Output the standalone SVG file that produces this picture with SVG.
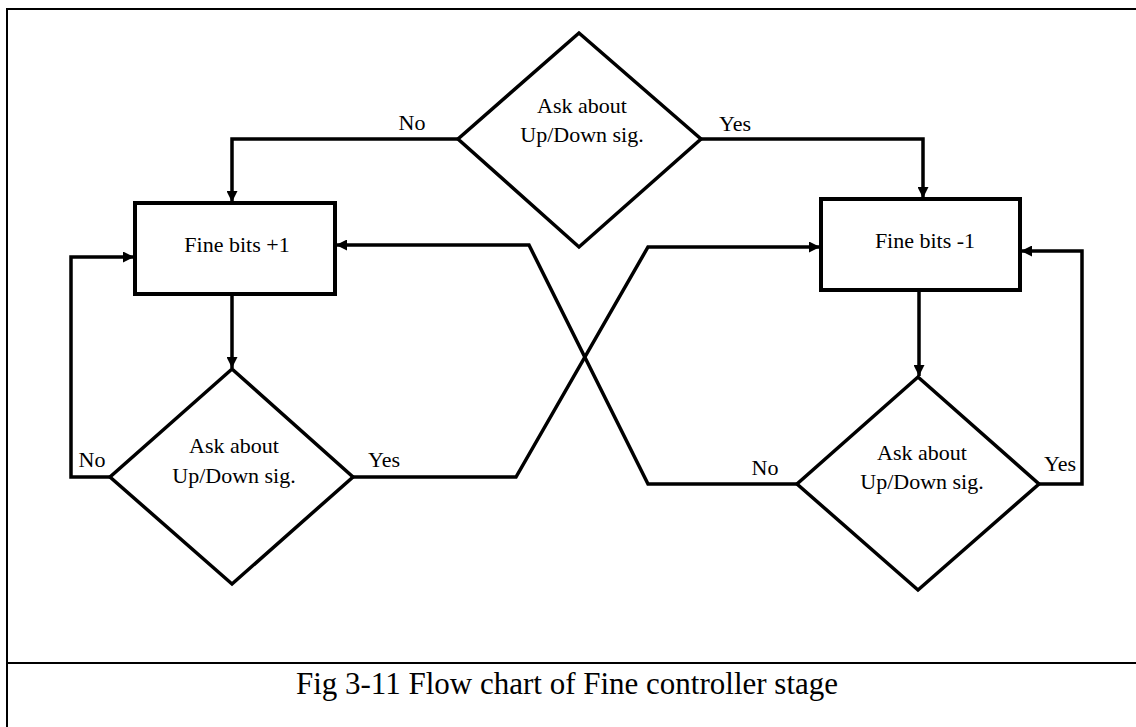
<svg xmlns="http://www.w3.org/2000/svg" width="1136" height="727" viewBox="0 0 1136 727">
<defs>
<style>
.shape{fill:#fff;stroke:#000;stroke-width:3.5}
.box{fill:#fff;stroke:#000;stroke-width:4}
.conn{fill:none;stroke:#000;stroke-width:3.5;stroke-linejoin:miter}
.t{font-family:"Liberation Serif","Times New Roman",serif;font-size:22px;fill:#000;text-anchor:middle}
.cap{font-family:"Liberation Serif","Times New Roman",serif;font-size:31px;fill:#000;text-anchor:middle}
.frame{fill:none;stroke:#000;stroke-width:2}
</style>
<marker id="ah" viewBox="0 0 10 10" refX="10" refY="5" markerWidth="11" markerHeight="11" markerUnits="userSpaceOnUse" orient="auto">
<path d="M0,0 L10,5 L0,10 z" fill="#000"/>
</marker>
</defs>
<rect width="1136" height="727" fill="#fff"/>
<g id="frame">
<path class="frame" d="M7,727 V9 H1136"/>
<path class="frame" d="M7,663 H1136"/>
</g>
<g id="connectors">
<path class="conn" d="M458,139 H232 V202" marker-end="url(#ah)"/>
<path class="conn" d="M701,139 H923 V198" marker-end="url(#ah)"/>
<path class="conn" d="M232,294 V368" marker-end="url(#ah)"/>
<path class="conn" d="M919,290 V376" marker-end="url(#ah)"/>
<path class="conn" d="M110,477 H71 V257 H134" marker-end="url(#ah)"/>
<path class="conn" d="M1039,484 H1082 V251 H1021" marker-end="url(#ah)"/>
<path class="conn" d="M353,477 H516 L648,247 H820" marker-end="url(#ah)"/>
<path class="conn" d="M797,484 H648 L529,245 H336" marker-end="url(#ah)"/>
</g>
<g id="labels">
<text class="t" x="412" y="130">No</text>
<text class="t" x="735" y="131">Yes</text>
<text class="t" x="92" y="467">No</text>
<text class="t" x="384" y="467">Yes</text>
<text class="t" x="765" y="475">No</text>
<text class="t" x="1060" y="471">Yes</text>
</g>
<g id="decision-top">
<polygon class="shape" points="579,33 701,139 579,247 458,139"/>
<text class="t" x="582" y="113">Ask about</text>
<text class="t" x="582" y="142">Up/Down sig.</text>
</g>
<g id="box-plus">
<rect class="box" x="135" y="203" width="200" height="91"/>
<text class="t" x="237" y="252">Fine bits +1</text>
</g>
<g id="box-minus">
<rect class="box" x="821" y="199" width="199" height="91"/>
<text class="t" x="925" y="248">Fine bits -1</text>
</g>
<g id="decision-left">
<polygon class="shape" points="232,369 353,477 232,584 110,477"/>
<text class="t" x="234" y="453">Ask about</text>
<text class="t" x="234" y="483">Up/Down sig.</text>
</g>
<g id="decision-right">
<polygon class="shape" points="918,377 1039,484 918,590 797,484"/>
<text class="t" x="922" y="460">Ask about</text>
<text class="t" x="922" y="489">Up/Down sig.</text>
</g>
<g id="caption">
<text class="cap" x="567" y="694">Fig 3-11 Flow chart of Fine controller stage</text>
</g>
</svg>
